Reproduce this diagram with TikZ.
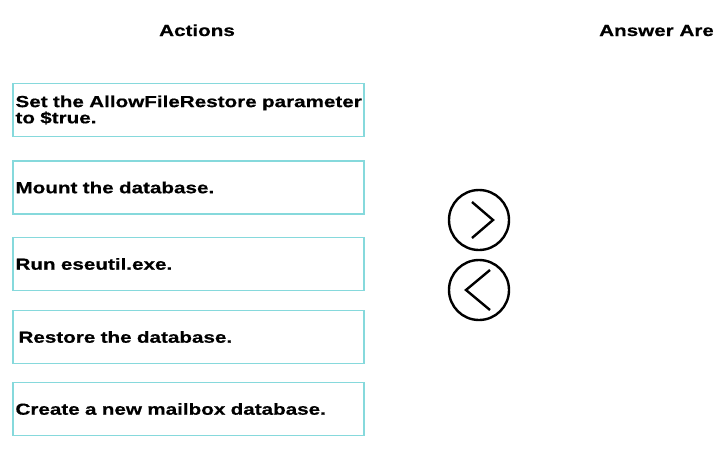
\documentclass[tikz,border=0pt]{standalone}
\usepackage{fontspec}
\setmainfont{Liberation Sans}[FakeStretch=1.29, BoldFeatures={FakeBold=0.6}]
\definecolor{boxcyan}{HTML}{86D9DC}
\tikzset{
  actionbox/.style={draw=boxcyan, line width=1.8pt, minimum width=351pt, minimum height=53pt,
    text width=346pt, inner xsep=2.5pt, inner ysep=0pt, align=left,
    font=\fontsize{16pt}{13pt}\selectfont\bfseries},
  heading/.style={font=\fontsize{16pt}{16pt}\selectfont\bfseries, inner sep=0pt},
  circbtn/.style={draw=black, circle, line width=2.4pt, minimum size=60pt, inner sep=0pt},
  chev/.style={draw=black, line width=2.4pt}
}
\begin{document}
\begin{tikzpicture}[x=1pt,y=-1pt]
\clip (0,0) rectangle (713,464);
\fill[white] (0,0) rectangle (713,464);
\node[heading, anchor=base] (hact) at (197,36) {Actions};
\node[heading, anchor=base west] (hans) at (599,36) {Answer Area};
\node[actionbox] (a1) at (188.5,110) {\mbox{Set the AllowFileRestore parameter}\\\mbox{to \$true.}};
\node[actionbox] (a2) at (188.5,187.5) {Mount the database.};
\node[actionbox] (a3) at (188.5,264) {Run eseutil.exe.};
\node[actionbox] (a4) at (188.5,337) {\hspace*{3pt}Restore the database.};
\node[actionbox] (a5) at (188.5,409) {\mbox{Create a new mailbox database.}};
\node[circbtn] (fwd) at (479,220) {};
\node[circbtn] (bwd) at (479,290) {};
\draw[chev] ([shift={(-7,-18)}]fwd.center) -- ([shift={(14,0)}]fwd.center) -- ([shift={(-7,18)}]fwd.center);
\draw[chev] ([shift={(11,-20)}]bwd.center) -- ([shift={(-13,0)}]bwd.center) -- ([shift={(11,20)}]bwd.center);
\end{tikzpicture}
\end{document}
